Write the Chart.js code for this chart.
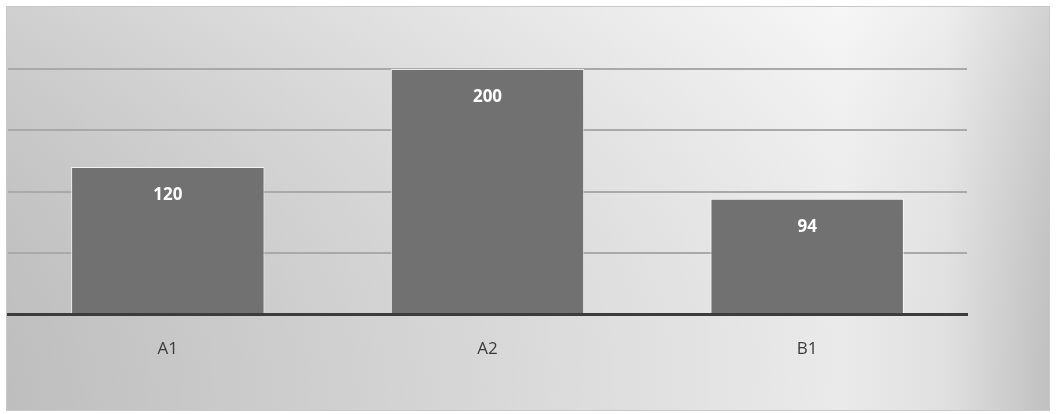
<!DOCTYPE html>
<html>
<head>
<meta charset="utf-8">
<script src="https://cdn.jsdelivr.net/npm/chart.js@4.4.1/dist/chart.umd.min.js"></script>
<style>
  html, body { margin: 0; padding: 0; background: #fff; }
  #wrap { width: 1056px; height: 414px; }
</style>
</head>
<body>
<div id="wrap"><canvas id="c"></canvas></div>
<script>
const categories = ["A1", "A2", "B1"];
const values = [120, 200, 94];
const yTicks = [0, 50, 100, 150, 200];

// box background with gradient, drawn behind everything
const boxBackground = {
  id: "boxBackground",
  beforeDraw(chart) {
    const { ctx } = chart;
    const x0 = 6, y0 = 6, x1 = 1050, y1 = 411;
    ctx.save();
    const g = ctx.createLinearGradient(x0, 0, x1, 0);
    g.addColorStop(0, "#c4c4c4");
    g.addColorStop(0.5, "#e2e2e2");
    g.addColorStop(0.8, "#f4f4f4");
    g.addColorStop(0.9, "#e9e9e9");
    g.addColorStop(1, "#c6c6c6");
    ctx.fillStyle = g;
    ctx.fillRect(x0, y0, x1 - x0, y1 - y0);
    const v = ctx.createLinearGradient(0, y0, 0, y1);
    v.addColorStop(0, "rgba(255,255,255,0.2)");
    v.addColorStop(1, "rgba(120,120,120,0.08)");
    ctx.fillStyle = v;
    ctx.fillRect(x0, y0, x1 - x0, y1 - y0);
    ctx.strokeStyle = "#c8c8c8";
    ctx.lineWidth = 1;
    ctx.strokeRect(x0 + 0.5, y0 + 0.5, x1 - x0 - 1, y1 - y0 - 1);
    ctx.restore();
  }
};

// white value labels inside the top of each bar
const valueLabels = {
  id: "valueLabels",
  afterDatasetsDraw(chart) {
    const { ctx } = chart;
    const meta = chart.getDatasetMeta(0);
    ctx.save();
    ctx.fillStyle = "#ffffff";
    ctx.font = "bold 17px 'Open Sans', sans-serif";
    ctx.textAlign = "center";
    ctx.textBaseline = "middle";
    meta.data.forEach((bar, i) => {
      ctx.fillText(String(values[i]), bar.x, bar.y + 28);
    });
    ctx.restore();
  }
};

new Chart(document.getElementById("c"), {
  type: "bar",
  data: {
    labels: categories,
    datasets: [{
      data: values,
      backgroundColor: "#717171",
      borderColor: "rgba(255,255,255,0.75)",
      borderWidth: { top: 1, left: 1, right: 1, bottom: 0 },
      borderSkipped: false,
      categoryPercentage: 1,
      barPercentage: 0.605,
    }],
  },
  options: {
    responsive: true,
    maintainAspectRatio: false,
    animation: false,
    layout: { padding: { left: 8, right: 89, top: 69, bottom: 0 } },
    plugins: { legend: { display: false }, tooltip: { enabled: false } },
    scales: {
      x: {
        grid: { display: false },
        border: { display: true, color: "#3c3c3c", width: 3, z: 1 },
        ticks: { color: "#3a3a3a", padding: 17, font: { family: "'Open Sans', sans-serif", size: 17 } },
        afterFit(scale) { scale.height = 100; },
      },
      y: {
        min: yTicks[0],
        max: yTicks[yTicks.length - 1],
        afterBuildTicks(scale) { scale.ticks = yTicks.map((v) => ({ value: v })); },
        ticks: { display: false },
        border: { display: false },
        grid: {
          drawTicks: false,
          lineWidth: 2,
          color: (c) => (c.tick && c.tick.value === 0 ? "rgba(0,0,0,0)" : "#a9a9a9"),
        },
        afterFit(scale) { scale.width = 0; },
      },
    },
  },
  plugins: [boxBackground, valueLabels],
});
</script>
</body>
</html>
